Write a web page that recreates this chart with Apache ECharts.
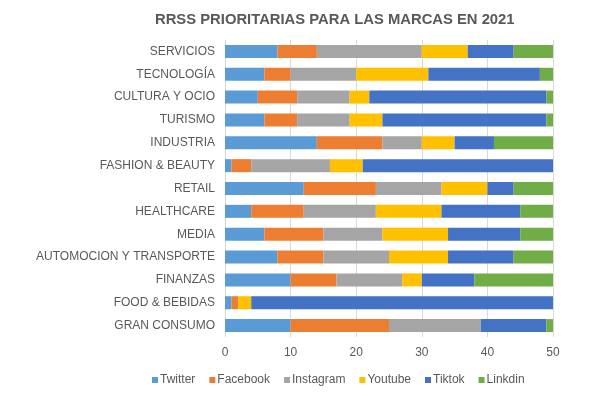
<!DOCTYPE html>
<html>
<head>
<meta charset="utf-8">
<script src="https://cdn.jsdelivr.net/npm/echarts@6/dist/echarts.min.js"></script>
<style>
  html, body { margin: 0; padding: 0; background: #fff; }
  #chart { width: 594px; height: 397px; }
</style>
</head>
<body>
<div id="chart"></div>
<script>
// categorias de arriba a abajo
var categorias = ['SERVICIOS', 'TECNOLOGÍA', 'CULTURA Y OCIO', 'TURISMO', 'INDUSTRIA',
  'FASHION & BEAUTY', 'RETAIL', 'HEALTHCARE', 'MEDIA', 'AUTOMOCION Y TRANSPORTE',
  'FINANZAS', 'FOOD & BEBIDAS', 'GRAN CONSUMO']
var redes = ['Twitter', 'Facebook', 'Instagram', 'Youtube', 'Tiktok', 'Linkdin']
var twitter   = [8, 6, 5, 6, 14, 1, 12, 4, 6, 8, 10, 1, 10]
var facebook  = [6, 4, 6, 5, 10, 3, 11, 8, 9, 7, 7, 1, 15]
var instagram = [16, 10, 8, 8, 6, 12, 10, 11, 9, 10, 10, 0, 14]
var youtube   = [7, 11, 3, 5, 5, 5, 7, 10, 10, 9, 3, 2, 0]
var tiktok    = [7, 17, 27, 25, 6, 29, 4, 12, 11, 10, 8, 46, 10]
var linkdin   = [6, 2, 1, 1, 9, 0, 6, 5, 5, 6, 12, 0, 1]
var ticksX = [0, 10, 20, 30, 40, 50]

var valores = [twitter, facebook, instagram, youtube, tiktok, linkdin]
var colores = ['#5B9BD5', '#ED7D31', '#A5A5A5', '#FFC000', '#4472C4', '#70AD47']

var chart = echarts.init(document.getElementById('chart'))
chart.setOption({
  animation: false,
  title: {
    text: 'RRSS PRIORITARIAS PARA LAS MARCAS EN 2021',
    left: 150,
    top: 7,
    textStyle: { fontFamily: 'Liberation Sans', fontSize: 14.8, fontWeight: 'bold', color: '#595959' }
  },
  legend: {
    data: redes,
    top: 369,
    left: 147,
    itemWidth: 6,
    itemHeight: 6,
    itemGap: 14,
    icon: 'rect',
    textStyle: { fontFamily: 'Liberation Sans', fontSize: 12, color: '#595959', padding: [0, 0, 0, -3] }
  },
  grid: { left: 225, right: 41, top: 40, bottom: 60, containLabel: false },
  xAxis: {
    type: 'value',
    min: ticksX[0],
    max: ticksX[ticksX.length - 1],
    interval: 10,
    axisLine: { show: false },
    axisTick: { show: false },
    axisLabel: { fontFamily: 'Liberation Sans', fontSize: 12, color: '#595959', margin: 10 },
    splitLine: { show: true, lineStyle: { color: '#D9D9D9', width: 1 } }
  },
  yAxis: {
    type: 'category',
    data: categorias,
    inverse: true,
    axisLine: { show: false },
    axisTick: { show: false },
    axisLabel: { fontFamily: 'Liberation Sans', fontSize: 12, color: '#595959', margin: 10 }
  },
  series: redes.map(function (nombre, i) {
    return {
      name: nombre,
      type: 'bar',
      stack: 'total',
      barWidth: 13,
      data: valores[i],
      itemStyle: { color: colores[i] }
    }
  })
})
</script>
</body>
</html>
